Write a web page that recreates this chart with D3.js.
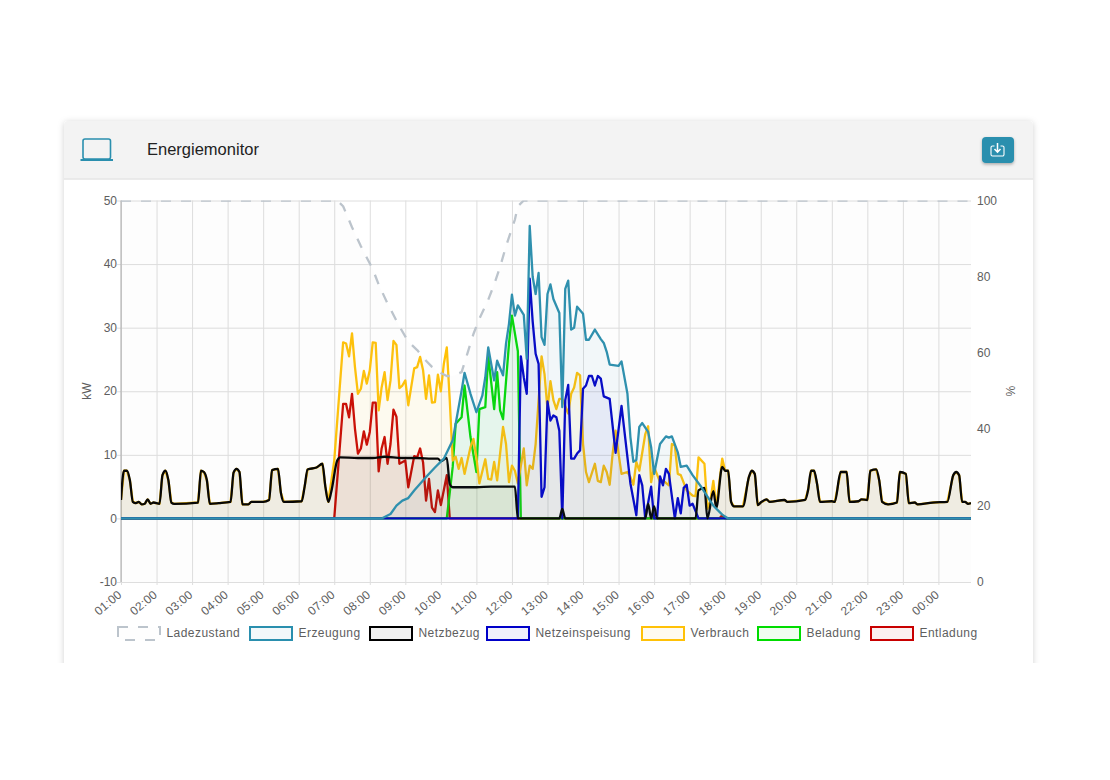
<!DOCTYPE html>
<html lang="de">
<head>
<meta charset="utf-8">
<title>Energiemonitor</title>
<script src="https://cdn.jsdelivr.net/npm/d3@7/dist/d3.min.js"></script>
<style>
html,body{margin:0;padding:0;background:#fff;}
svg{display:block;font-family:"Liberation Sans",Arial,sans-serif;}
.tick text{fill:#5e5e5e;font-size:12px;}
.domain{display:none;}
</style>
</head>
<body>
<svg id="chart" width="1110" height="780"></svg>
<script>
// Time axis: one slot every 5 minutes, starting at 01:00
const slotCount = 288;
const hourLabels = ["01:00","02:00","03:00","04:00","05:00","06:00","07:00","08:00","09:00","10:00","11:00","12:00","13:00","14:00","15:00","16:00","17:00","18:00","19:00","20:00","21:00","22:00","23:00","00:00"];
const kwTicks = [-10,0,10,20,30,40,50];
const socTicks = [0,20,40,60,80,100];

// [slot, value] readings
const ladezustandPts = [[0,100],[73,100],[75,98.5],[78,93],[81,88],[85,82],[87,78],[90,73],[94,67],[97,63],[100,60.8],[103,58],[105,56.4],[108,54.8],[110,54],[112,54],[115,55],[117,60],[119,65],[121,69],[124,74],[126,78],[128,82.6],[130,88],[133,95],[134,98.5],[136,100],[287,100]];

const erzeugungPts = [[0,0],[88,0],[91,0.7],[93,2],[95,2.8],[97,3.2],[99,4.4],[103,6.5],[106,8],[109,9.4],[112,12.3],[113,14.9],[115,20.1],[116,22.9],[118,19.6],[120,16.7],[122,19.3],[123,22.2],[124,26.9],[126,21.7],[127,24.8],[129,22.5],[130,27.5],[131,30.6],[132,35.2],[133,31.9],[134,33.5],[136,32],[137,25.1],[138,46],[139,38],[140,35.3],[141,38.6],[142,28.5],[143,27.3],[144,35.3],[145,36.8],[146,34.5],[148,32.3],[149,17.5],[150,36.1],[151,37.4],[152,29.7],[153,30],[154,33.3],[156,32.2],[157,28.1],[158,28.1],[160,29.7],[162,28.2],[163,27.6],[164,26.2],[165,24.2],[168,24],[169,24.7],[171,19.6],[172,12.8],[173,8.9],[174,9.2],[175,14.4],[176,15],[178,13.6],[179,11.2],[180,7],[182,11.7],[184,12.9],[185,12.7],[186,12.9],[188,10.4],[189,8.1],[191,8.3],[193,6.8],[196,4.9],[200,2],[203,0.6],[205,0],[287,0]];

const netzMorgen = [[0,2.9],[1,7.5],[2,7.5],[3,6],[4,2.6],[5,2.4],[6,2.6],[7,2.2],[8,2.3],[9,3],[10,2.3],[11,2.5],[13,2.3],[14,6.8],[15,7.5],[16,6],[17,2.5],[18,2.3],[26,2.5],[27,7.5],[28,7.3],[29,6],[30,2.3],[33,2.4],[37,2.6],[38,7.2],[39,7.8],[40,7.3],[41,2.2],[43,2.2],[44,2.6],[48,2.6],[50,2.9],[51,7.6],[53,7.8],[54,4],[55,2.6],[61,2.7],[62,5],[63,7.7],[66,8],[68,8.6],[69,5],[70,2.6]];
const netzTag = [[71,4.2],[73,9.1],[74,9.6],[80,9.5],[85,9.5],[89,9.7],[95,9.5],[100,9.5],[105,9.4],[107,9.4],[108,9],[110,9.5],[111,5.4],[112,4.9],[120,4.9],[125,5],[133,5],[134,0],[148,0],[149,1.5],[150,0],[177,0],[178,2.3],[179,0],[180,1.9],[181,0],[194,0],[195,4.4],[197,4.8],[198,0],[200,4.3],[201,1.7],[203,8.1],[204,7.5]];
const netzAbend = [[205,7.5],[206,2.6],[207,1.9],[210,1.9],[212,6.5],[213,7.5],[214,7],[215,2.1],[216,2.5],[218,3],[219,2.6],[224,2.9],[225,2.6],[231,2.9],[232,4.5],[233,7.5],[234,7.5],[235,5.5],[236,2.6],[240,2.7],[241,2.6],[243,7.3],[245,7.3],[246,2.6],[249,2.7],[250,3],[252,2.9],[253,7.5],[255,7.7],[256,6],[257,2.6],[259,2.2],[262,2.5],[263,7.3],[265,7],[266,2.4],[268,2.5],[269,2.2],[274,2.5],[279,2.6],[281,6.8],[282,7.3],[283,6.8],[284,2.6],[285,2.6],[286,2.3],[287,2.4]];
const netzbezugPts = netzMorgen.concat(netzTag, netzAbend);

const netzeinspeisungPts = [[0,0],[134,0],[135,25.5],[136,22.2],[137,19.6],[138,37.7],[139,31],[140,25.9],[141,24.3],[142,3.4],[143,4.9],[144,18.4],[145,15.4],[146,16.2],[147,15.9],[148,13.8],[149,0],[150,18.6],[151,21],[152,9.4],[153,9.4],[154,10.2],[155,10.7],[156,20.4],[157,20.9],[158,22.4],[159,22.4],[160,20.9],[161,22.4],[162,22],[163,19.2],[165,18.8],[167,10.3],[169,17.7],[171,9.6],[172,5.5],[174,0.5],[175,6.8],[176,5.2],[177,0],[179,5],[180,0],[181,0],[182,6.6],[183,5.2],[184,7.8],[185,7],[187,0],[188,3.2],[189,0.8],[190,4.8],[191,5.3],[192,2],[193,2.3],[195,0],[287,0]];

const verbrauchTag = [[72,9.1],[75,27.7],[76,27.5],[77,25.5],[78,29.1],[79,23.8],[80,19.6],[81,20.4],[82,23.2],[83,21.2],[84,23.3],[85,27.7],[86,27.6],[87,17],[88,20.6],[89,23],[90,18.6],[91,21.7],[92,27.9],[93,27.3],[94,20.5],[95,20.9],[96,21.7],[97,17.8],[99,23.6],[100,23.8],[101,25.4],[102,23.3],[103,18.8],[104,22.5],[105,18.2],[106,18.3],[107,22.6],[108,20],[109,24.3],[110,26.9],[111,18.6],[112,9.1],[113,9.7],[114,7.8],[115,9.5],[116,7],[117,9.1],[118,11.2],[119,12.5],[120,9.6],[121,5.5],[123,9.3],[124,6.2],[125,6.1],[126,8.9],[127,6],[129,14.4],[130,11.7],[131,5.7],[132,8.3],[133,7.5],[134,5.5],[136,11],[137,5.2],[138,8.3],[139,7.8],[140,11.7],[142,25.5],[143,22.7],[144,17.2],[145,21.6],[146,18.6],[147,17.2],[148,18.8],[149,18.8],[151,16.5],[152,19.6],[153,20.6],[154,22.9],[155,22.5],[156,11.7],[157,7.3],[158,5.7],[160,8.6],[161,5.9],[162,5.7],[163,8.3],[164,7.3],[165,5.3],[166,10.2],[167,13.8],[168,10.2],[169,7],[171,7.3],[172,6.5],[173,5.3],[174,8.9],[175,7.5],[177,13.2],[178,14.5],[179,5.7],[180,8.1],[182,5.7],[183,6],[185,5.2],[186,11.7],[187,11.5],[188,7],[189,6.8],[191,4.4],[193,3.6],[194,3.5],[195,9.6],[197,8.6],[198,1.5],[199,2.8],[200,5.9],[201,1.8],[203,9.4],[204,7.5]];
const verbrauchPts = netzMorgen.concat(verbrauchTag, netzAbend);

const beladungPts = [[0,0],[110,0],[112,8.1],[113,14.9],[115,15.9],[116,20.9],[118,12.8],[120,7.3],[121,17.2],[123,17.5],[124,25.6],[126,17.2],[127,23],[128,17],[129,15.6],[131,27.5],[132,31.9],[134,26.3],[135,0],[287,0]];

const entladungPts = [[0,0],[72,0],[75,18],[76,18],[77,15.9],[78,19.6],[79,14.1],[80,10.2],[81,11],[82,13.7],[83,11.6],[84,13.6],[85,18.2],[86,18.2],[87,7.4],[88,11],[89,12.8],[90,8.6],[91,11.7],[92,17.1],[93,16],[94,8.6],[96,9.1],[97,4.9],[99,9.8],[100,9.6],[101,11],[102,8.8],[103,2.8],[104,6.2],[105,1.7],[106,1],[107,4.4],[108,2.1],[110,6.8],[111,0],[202,0],[203,0.5],[204,0],[287,0]];

const seriesNames = ["Ladezustand","Erzeugung","Netzbezug","Netzeinspeisung","Verbrauch","Beladung","Entladung"];
const seriesColors = ["#bcc4cc","#2a8fae","#000000","#0000c8","#ffc107","#00dc00","#c80000"];
const seriesData = [ladezustandPts,erzeugungPts,netzbezugPts,netzeinspeisungPts,verbrauchPts,beladungPts,entladungPts];
const legendBoxX = [118,250,370,487,642,758,871];

// Layout
const plot = {left:121,right:971,top:200.5,bottom:582};
const svg = d3.select("#chart");
const defs = svg.append("defs");
const sh = defs.append("filter").attr("id","cardShadow").attr("x","-5%").attr("y","-5%").attr("width","110%").attr("height","110%");
sh.append("feDropShadow").attr("dx",0).attr("dy",1).attr("stdDeviation",3).attr("flood-color","#000").attr("flood-opacity",0.18);
const bs = defs.append("filter").attr("id","btnShadow").attr("x","-30%").attr("y","-30%").attr("width","160%").attr("height","170%");
bs.append("feDropShadow").attr("dx",0).attr("dy",1.5).attr("stdDeviation",1.5).attr("flood-color","#000").attr("flood-opacity",0.3);
defs.append("clipPath").attr("id","plotClip").append("rect")
  .attr("x",plot.left).attr("y",plot.top).attr("width",plot.right-plot.left).attr("height",plot.bottom-plot.top);

// Card
svg.append("rect").attr("x",64).attr("y",121).attr("width",969).attr("height",600).attr("rx",4).attr("fill","#fff").attr("filter","url(#cardShadow)");
svg.append("rect").attr("x",0).attr("y",663).attr("width",1110).attr("height",117).attr("fill","#fff");
svg.append("path").attr("d","M64,178.5V125a4,4 0 0 1 4,-4H1029a4,4 0 0 1 4,4V178.5Z").attr("fill","#f3f3f3");
svg.append("line").attr("x1",64).attr("x2",1033).attr("y1",179).attr("y2",179).attr("stroke","#d8d8d8");

// Header icon and title
const teal = seriesColors[1];
svg.append("rect").attr("x",83).attr("y",139).attr("width",27.5).attr("height",20).attr("rx",2).attr("fill","none").attr("stroke",teal).attr("stroke-width",1.6);
svg.append("line").attr("x1",80.5).attr("x2",113).attr("y1",160).attr("y2",160).attr("stroke",teal).attr("stroke-width",2);
svg.append("text").attr("x",147).attr("y",155).attr("font-size",16.5).attr("fill","#222").text("Energiemonitor");
svg.append("rect").attr("x",982).attr("y",137).attr("width",32).attr("height",26).attr("rx",4).attr("fill",teal).attr("filter","url(#btnShadow)");
svg.append("path").attr("d","M994.5,146h-2a1.5,1.5 0 0 0 -1.5,1.5v7a1.5,1.5 0 0 0 1.5,1.5h10a1.5,1.5 0 0 0 1.5,-1.5v-7a1.5,1.5 0 0 0 -1.5,-1.5h-2").attr("fill","none").attr("stroke","#fff").attr("stroke-width",1.1);
svg.append("path").attr("d","M997.5,143v9M994.5,149l3,3.2l3,-3.2").attr("fill","none").attr("stroke","#fff").attr("stroke-width",1.5);

// Scales
const x = d3.scaleLinear().domain([0,slotCount-1]).range([plot.left,plot.right]);
const yKw = d3.scaleLinear().domain([-10,50]).range([plot.bottom,plot.top]);
const ySoc = d3.scaleLinear().domain([0,100]).range([plot.bottom,plot.top]);
const w = plot.right-plot.left;
const gridColor = "#dedede";

// Axes
const gx = svg.append("g").attr("transform",`translate(0,${plot.bottom})`)
  .call(d3.axisBottom(x).tickValues(hourLabels.map((d,i)=>i*12)).tickFormat((d,i)=>hourLabels[i]).tickSize(-(plot.bottom-plot.top)));
gx.selectAll("line").attr("stroke",gridColor).attr("y2",-(plot.bottom-plot.top)).attr("y1",3);
gx.selectAll("text").attr("text-anchor","end").attr("dy",0).attr("y",0)
  .attr("transform","translate(1,14) rotate(-40)").attr("font-size",12).style("letter-spacing","0.2px");

const gl = svg.append("g").attr("transform",`translate(${plot.left},0)`)
  .call(d3.axisLeft(yKw).tickValues(kwTicks).tickFormat(d=>String(d)).tickSize(-w));
gl.selectAll("line").attr("stroke",gridColor).attr("x1",-4).attr("x2",w);
gl.selectAll("text").attr("x",-4).attr("y",-0.5).attr("dy","0.34em");
svg.append("line").attr("x1",plot.left).attr("x2",plot.left).attr("y1",plot.top).attr("y2",plot.bottom).attr("stroke","#a8a8a8");

const gr = svg.append("g").attr("transform",`translate(${plot.right},0)`)
  .call(d3.axisRight(ySoc).tickValues(socTicks).tickFormat(d=>String(d)).tickSize(0));
gr.selectAll("text").attr("x",6).attr("y",-0.5).attr("dy","0.34em");

svg.append("text").attr("transform","translate(91,391) rotate(-90)").attr("text-anchor","middle").attr("font-size",12).attr("fill","#5e5e5e").text("kW");
svg.append("text").attr("transform","translate(1006,391) rotate(90)").attr("text-anchor","middle").attr("font-size",12).attr("fill","#5e5e5e").text("%");

// Series (first dataset ends up on top, so draw in reverse)
const marks = svg.append("g").attr("clip-path","url(#plotClip)");
const fillAlpha = [0.035,0.05,0.055,0.05,0.055,0.05,0.05];
seriesData.map((pts,i)=>i).reverse().forEach(i=>{
  const curve = i===2 ? d3.curveMonotoneX : d3.curveLinear;
  const yScale = i===0 ? ySoc : yKw;
  const base = i===0 ? plot.bottom : yKw(0);
  const c = d3.color(seriesColors[i]); c.opacity = fillAlpha[i];
  marks.append("path").datum(seriesData[i])
    .attr("d",d3.area().x(d=>x(d[0])).y0(base).y1(d=>yScale(d[1])).curve(curve))
    .attr("fill",c.formatRgb());
  marks.append("path").datum(seriesData[i])
    .attr("d",d3.line().x(d=>x(d[0])).y(d=>yScale(d[1])).curve(curve))
    .attr("fill","none").attr("stroke",seriesColors[i]).attr("stroke-width",2.3)
    .attr("stroke-linejoin","round")
    .attr("stroke-dasharray",i===0?"10,10":null);
});

// Legend
const lg = svg.append("g").selectAll("g").data(seriesNames).join("g")
  .attr("transform",(d,i)=>`translate(${legendBoxX[i]},627)`);
lg.append("rect").attr("width",42).attr("height",13)
  .attr("fill",(d,i)=>{const c=d3.color(seriesColors[i]);c.opacity=i===0?0.02:0.06;return c.formatRgb();})
  .attr("stroke",(d,i)=>seriesColors[i]).attr("stroke-width",2)
  .attr("stroke-dasharray",(d,i)=>i===0?"10,10":null);
lg.append("text").attr("x",48.5).attr("y",10).attr("font-size",12).attr("fill","#5e5e5e").style("letter-spacing","0.45px").text(d=>d);
</script>
</body>
</html>
